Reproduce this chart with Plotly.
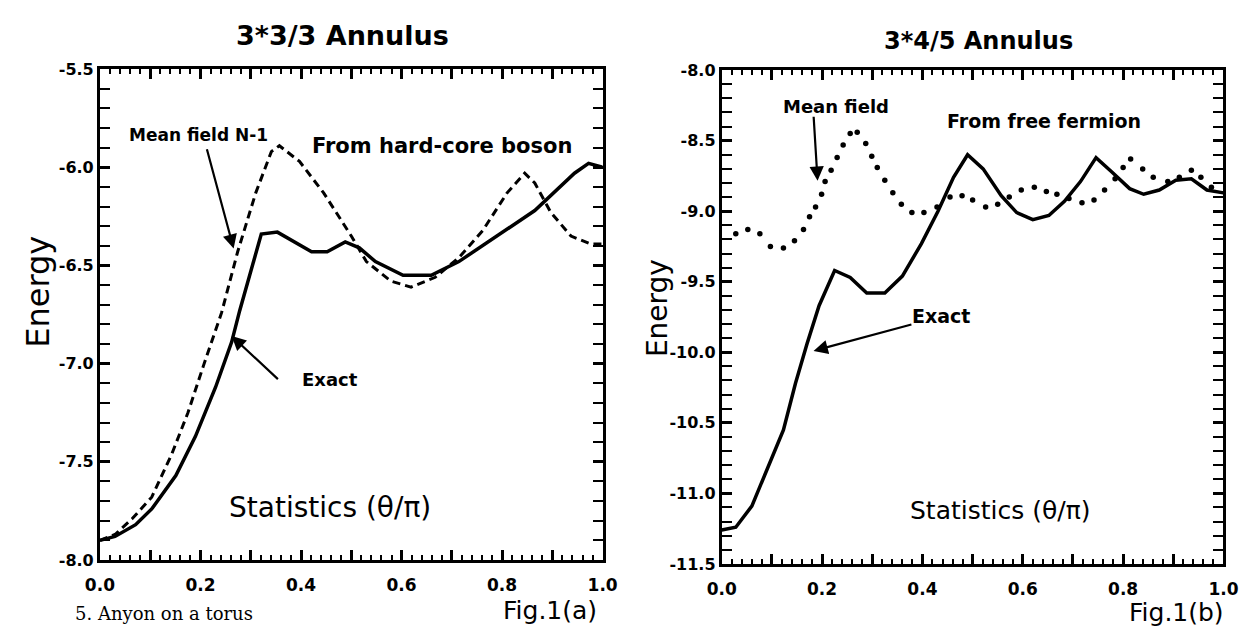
import plotly.graph_objects as go

W, H = 1258, 636

# ---------------- data ----------------
# Fig.1(a)  3*3/3 Annulus
a_exact_x = [0.0, 0.03, 0.071, 0.103, 0.151, 0.19, 0.23, 0.262, 0.278, 0.302, 0.321, 0.353,
             0.421, 0.452, 0.488, 0.516, 0.548, 0.603, 0.659, 0.714, 0.79, 0.865, 0.944, 0.972, 1.0]
a_exact_y = [-7.90, -7.88, -7.82, -7.74, -7.57, -7.37, -7.12, -6.89, -6.73, -6.51, -6.34, -6.33,
             -6.43, -6.43, -6.38, -6.41, -6.48, -6.55, -6.55, -6.48, -6.35, -6.22, -6.03, -5.98, -6.00]

a_mf_x = [0.0, 0.03, 0.064, 0.103, 0.143, 0.175, 0.206, 0.242, 0.274, 0.31, 0.341, 0.357, 0.397,
          0.445, 0.5, 0.53, 0.579, 0.619, 0.667, 0.714, 0.762, 0.81, 0.845, 0.865, 0.897, 0.937,
          0.976, 1.0]
a_mf_y = [-7.90, -7.87, -7.79, -7.68, -7.46, -7.25, -7.01, -6.74, -6.43, -6.13, -5.92, -5.89, -5.97,
          -6.13, -6.35, -6.48, -6.58, -6.61, -6.56, -6.46, -6.32, -6.13, -6.03, -6.08, -6.23, -6.35,
          -6.39, -6.39]

# Fig.1(b)  3*4/5 Annulus
b_exact_x = [0.0, 0.028, 0.06, 0.09, 0.123, 0.147, 0.17, 0.194, 0.225, 0.256, 0.289, 0.325, 0.36,
             0.398, 0.431, 0.462, 0.49, 0.521, 0.557, 0.588, 0.62, 0.652, 0.683, 0.715, 0.746,
             0.777, 0.813, 0.841, 0.872, 0.905, 0.936, 0.967, 1.0]
b_exact_y = [-11.26, -11.24, -11.09, -10.83, -10.55, -10.22, -9.94, -9.67, -9.42, -9.47, -9.58,
             -9.58, -9.46, -9.23, -9.00, -8.76, -8.60, -8.70, -8.89, -9.01, -9.06, -9.03, -8.93,
             -8.79, -8.62, -8.72, -8.84, -8.88, -8.85, -8.78, -8.77, -8.85, -8.87]

b_mf_x = [0.028, 0.052, 0.076, 0.097, 0.123, 0.145, 0.163, 0.175, 0.187, 0.199, 0.206, 0.218,
          0.23, 0.242, 0.256, 0.27, 0.287, 0.299, 0.31, 0.325, 0.341, 0.358, 0.379, 0.403, 0.429,
          0.455, 0.479, 0.5, 0.526, 0.55, 0.573, 0.597, 0.623, 0.647, 0.668, 0.692, 0.718, 0.742,
          0.763, 0.784, 0.80, 0.815, 0.839, 0.86, 0.889, 0.912, 0.936, 0.955, 0.976]
b_mf_y = [-9.16, -9.13, -9.16, -9.25, -9.26, -9.21, -9.13, -9.04, -8.97, -8.88, -8.79, -8.71,
          -8.62, -8.53, -8.45, -8.44, -8.52, -8.61, -8.69, -8.78, -8.87, -8.95, -9.01, -9.01,
          -8.97, -8.90, -8.89, -8.92, -8.97, -8.95, -8.90, -8.85, -8.83, -8.86, -8.88, -8.91,
          -8.94, -8.92, -8.85, -8.77, -8.69, -8.63, -8.70, -8.76, -8.79, -8.76, -8.71, -8.76, -8.83]

# tick labels: labelled x ticks every 0.2, unlabelled major ticks in between
x_hidden_labels = ["0.1", "0.3", "0.5", "0.7", "0.9"]
a_y_labels = ["-8.0", "-7.5", "-7.0", "-6.5", "-6.0", "-5.5"]
b_y_labels = ["-11.5", "-11.0", "-10.5", "-10.0", "-9.5", "-9.0", "-8.5", "-8.0"]

# ---------------- figure ----------------
FONT = "DejaVu Sans"
fig = go.Figure()

fig.add_trace(go.Scatter(x=a_mf_x, y=a_mf_y, mode="lines", xaxis="x", yaxis="y",
                         line=dict(color="black", width=3, dash="8px,5px"),
                         name="Mean field N-1"))
fig.add_trace(go.Scatter(x=a_exact_x, y=a_exact_y, mode="lines", xaxis="x", yaxis="y",
                         line=dict(color="black", width=3.5), name="Exact"))
fig.add_trace(go.Scatter(x=b_mf_x, y=b_mf_y, mode="markers", xaxis="x2", yaxis="y2",
                         marker=dict(color="black", size=5.5), name="Mean field"))
fig.add_trace(go.Scatter(x=b_exact_x, y=b_exact_y, mode="lines", xaxis="x2", yaxis="y2",
                         line=dict(color="black", width=3.5), name="Exact"))
# empty traces so the fine-tick x axes (x3, x4) are drawn
fig.add_trace(go.Scatter(x=[], y=[], xaxis="x3", yaxis="y", hoverinfo="skip"))
fig.add_trace(go.Scatter(x=[], y=[], xaxis="x4", yaxis="y2", hoverinfo="skip"))


def px2paper(px, py):
    return px / W, 1 - py / H


def axis(domain, rng, dtick, tick0, minor_dtick, alias, standoff=None, anchor=None, fsize=16):
    d = dict(domain=domain, range=rng, tickmode="linear", dtick=dtick, tick0=tick0,
             tickformat=".1f", labelalias=alias,
             showline=True, linewidth=3, linecolor="black", mirror="allticks",
             ticks="inside", ticklen=10, tickwidth=2.5, tickcolor="black",
             showgrid=False, zeroline=False, anchor=anchor,
             tickfont=dict(family=FONT, size=fsize, color="black", weight="bold"))
    if minor_dtick:
        d["minor"] = dict(ticks="inside", ticklen=5, tickwidth=2, tickcolor="black",
                          dtick=minor_dtick, tick0=tick0, showgrid=False)
    if standoff is not None:
        d["ticklabelstandoff"] = standoff
    return d


def fine_x(domain, anchor, over):
    return dict(domain=domain, range=[0, 1], overlaying=over, anchor=anchor, side="bottom",
                tickmode="linear", tick0=0, dtick=0.02, ticks="inside", ticklen=5,
                tickwidth=2, tickcolor="black", showticklabels=False, showgrid=False,
                zeroline=False, showline=True, linewidth=3, linecolor="black",
                mirror="allticks")


x_alias = {lab: " " for lab in x_hidden_labels}
# plotly writes a true minus sign; the figure uses a plain hyphen
a_y_alias = {lab.replace("-", "\u2212"): lab for lab in a_y_labels}
b_y_alias = {lab.replace("-", "\u2212"): lab for lab in b_y_labels}

ax_l = [87 / W, 602 / W]
ax_r = [724 / W, 1238 / W]
ay_l = [(H - 568) / H, (H - 62) / H]
ay_r = [(H - 572) / H, (H - 63) / H]

xa1 = axis(ax_l, [0, 1], 0.1, 0, None, x_alias, standoff=8, anchor="y", fsize=17)
xa2 = axis(ax_r, [0, 1], 0.1, 0, None, x_alias, standoff=8, anchor="y2", fsize=17)
ya1 = axis(ay_l, [-8, -5.5], 0.5, -8, 0.1, a_y_alias, anchor="x")
ya2 = axis(ay_r, [-11.5, -8], 0.5, -11.5, 0.1, b_y_alias, anchor="x2")

annotations = []


def text(px, py, s, size, bold=False, angle=0, family=FONT, xanchor="center", yanchor="middle"):
    x, y = px2paper(px, py)
    annotations.append(dict(x=x, y=y, xref="paper", yref="paper", text=s, showarrow=False,
                            textangle=angle, xanchor=xanchor, yanchor=yanchor,
                            font=dict(family=family, size=size, color="black",
                                      weight="bold" if bold else "normal")))


def arrow(xref, yref, hx, hy, tx, ty):
    annotations.append(dict(x=hx, y=hy, xref=xref, yref=yref, ax=tx, ay=ty,
                            axref=xref, ayref=yref, text="", showarrow=True,
                            arrowhead=2, arrowsize=1.3, arrowwidth=2.2, arrowcolor="black"))


text(335, 27, "3*3/3 Annulus", 27, bold=True)
text(987, 33, "3*4/5 Annulus", 24, bold=True)
text(24, 291, "Energy", 32, angle=-90)
text(658, 308, "Energy", 28, angle=-90)
text(323, 514, "Statistics (θ/π)", 28)
text(1010, 517, "Statistics (θ/π)", 25)
text(188, 130, "Mean field N-1", 17, bold=True)
text(437, 141, "From hard-core boson", 21, bold=True)
text(323, 382, "Exact", 18, bold=True)
text(841, 100, "Mean field", 18, bold=True)
text(1054, 115, "From free fermion", 19, bold=True)
text(949, 316, "Exact", 19, bold=True)
text(548, 620, "Fig.1(a)", 25)
text(1190, 622, "Fig.1(b)", 25)
text(59, 636, "5. Anyon on a torus", 18, family="DejaVu Serif", xanchor="left", yanchor="bottom")

arrow("x", "y", 0.266, -6.414, 0.212, -5.90)
arrow("x", "y", 0.262, -6.859, 0.357, -7.086)
arrow("x2", "y2", 0.191, -8.784, 0.183, -8.32)
arrow("x2", "y2", 0.183, -9.99, 0.381, -9.80)

fig.update_layout(width=W, height=H, margin=dict(l=0, r=0, t=0, b=0),
                  paper_bgcolor="white", plot_bgcolor="white", showlegend=False,
                  xaxis=xa1, yaxis=ya1, xaxis2=xa2, yaxis2=ya2,
                  xaxis3=fine_x(ax_l, "y", "x"), xaxis4=fine_x(ax_r, "y2", "x2"),
                  annotations=annotations)

fig.write_html("out.html", config={"displayModeBar": False},
               post_script="document.body.style.margin='0';")
